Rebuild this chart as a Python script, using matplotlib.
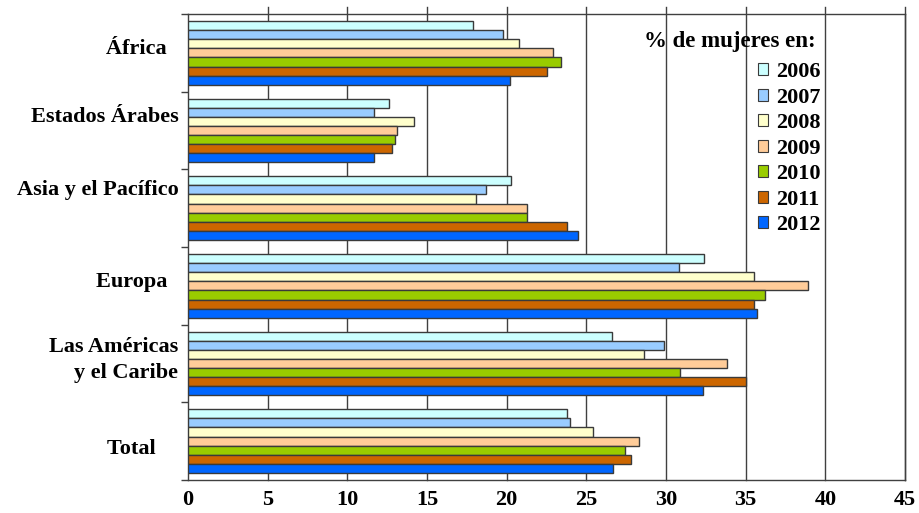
import numpy as np
import matplotlib
matplotlib.use("Agg")
import matplotlib.pyplot as plt

regions = ["África  ", "Estados Árabes", "Asia y el Pacífico", "Europa  ",
           "Las Américas\ny el Caribe", "Total    "]
years = ["2006", "2007", "2008", "2009", "2010", "2011", "2012"]
# % de mujeres, one list per year, in region order
v2006 = [17.9, 12.6, 20.3, 32.4, 26.6, 23.8]
v2007 = [19.8, 11.7, 18.7, 30.8, 29.9, 24.0]
v2008 = [20.8, 14.2, 18.1, 35.5, 28.6, 25.4]
v2009 = [22.9, 13.1, 21.3, 38.9, 33.8, 28.3]
v2010 = [23.4, 13.0, 21.3, 36.2, 30.9, 27.4]
v2011 = [22.5, 12.8, 23.8, 35.5, 35.0, 27.8]
v2012 = [20.2, 11.7, 24.5, 35.7, 32.3, 26.7]
series = [v2006, v2007, v2008, v2009, v2010, v2011, v2012]
xticks = [0, 5, 10, 15, 20, 25, 30, 35, 40, 45]

COLORS = ["#CCFFFF", "#99CCFF", "#FFFFCC", "#FFCC99", "#99CC00", "#CC6600", "#0066FF"]
C_EDGE = "#3a3a3a"
C_GRID = "#404040"
FONT = "Liberation Serif"
# labels sit a little off the group centres in the original
LABEL_SHIFT = [-0.08, -0.21, -0.26, -0.08, -0.12, 0.07]

fig = plt.figure(figsize=(9.2, 5.13), dpi=100)
ax = fig.add_axes([188 / 920, 33 / 513, 717 / 920, 466 / 513])

h = 0.1177
centers = np.arange(len(regions)) + 0.5
for j, (vals, col, yr) in enumerate(zip(series, COLORS, years)):
    ax.barh(centers + (j - 3) * h, vals, height=h, color=col, edgecolor=C_EDGE,
            linewidth=1.0, label=yr, zorder=3)

ax.set_xlim(0, 45)
ax.set_ylim(len(regions), 0)
ax.set_xticks(xticks)
ax.set_xticklabels([str(t) for t in xticks], fontfamily=FONT, fontweight="bold", fontsize=16)
ax.tick_params(axis="x", length=0, pad=7)
# grid lines poke a few pixels above the top frame
for t in xticks[1:]:
    ax.axvline(t, ymin=0, ymax=1.016, color=C_GRID, lw=1.0, zorder=1, clip_on=False)

ax.set_yticks(centers + np.array(LABEL_SHIFT))
ax.set_yticklabels(regions, fontfamily=FONT, fontweight="bold", fontsize=16,
                   linespacing=1.4)
ax.tick_params(axis="y", length=0, pad=7)
ax.set_yticks(np.arange(len(regions) + 1), minor=True)
ax.tick_params(axis="y", which="minor", length=5, color=C_GRID, width=1)

for s in ("left", "bottom", "top", "right"):
    ax.spines[s].set_color(C_GRID)
    ax.spines[s].set_linewidth(1.0)

fig.text(816 / 920, 1 - 42 / 513, "% de mujeres en:", ha="right", va="center",
         fontfamily=FONT, fontweight="bold", fontsize=16.5)
leg = ax.legend(loc="upper right", bbox_to_anchor=(821 / 920, 1 - 62 / 513),
                bbox_transform=fig.transFigure, frameon=False,
                prop={"family": FONT, "weight": "bold", "size": 16},
                handlelength=0.45, handleheight=0.45, handletextpad=0.4,
                labelspacing=0.25, borderaxespad=0, borderpad=0)
for p in leg.get_patches():
    p.set_linewidth(0.8)

fig.savefig("out.png", dpi=100)
